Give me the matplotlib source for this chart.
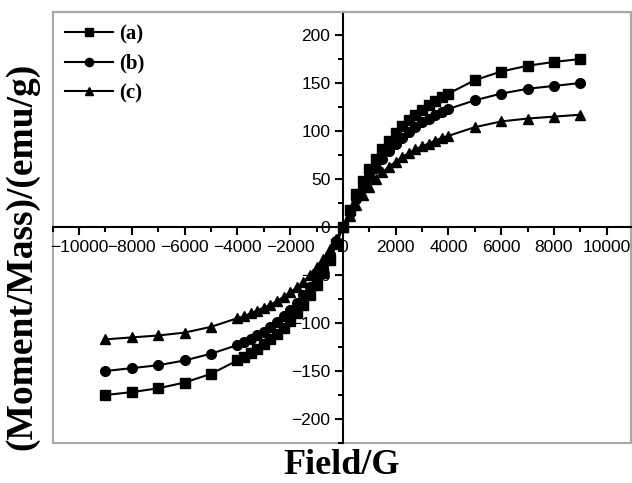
import matplotlib
matplotlib.use("Agg")
import matplotlib.pyplot as plt
from matplotlib.patches import Rectangle
from matplotlib.ticker import MultipleLocator

# Field values (G): outer points every 1000 G, inner dense points every 250 G
field_pos = [0, 250, 500, 750, 1000, 1250, 1500, 1750, 2000, 2250, 2500, 2750,
             3000, 3250, 3500, 3750, 4000, 5000, 6000, 7000, 8000, 9000]
mag_a_pos = [0, 18, 34, 48, 60, 71, 81, 90, 98, 105, 111, 117,
             122, 127, 131, 135, 139, 153, 162, 168, 172, 175]
mag_b_pos = [0, 15, 29, 41, 52, 62, 71, 79, 86, 93, 99, 104,
             109, 113, 117, 120, 123, 132, 139, 144, 147, 150]
mag_c_pos = [0, 12, 23, 33, 42, 50, 57, 63, 68, 73, 77, 81,
             84, 87, 90, 93, 95, 104, 110, 113, 115, 117]

field = [-f for f in field_pos[::-1]] + field_pos[1:]
mag_a = [-m for m in mag_a_pos[::-1]] + mag_a_pos[1:]
mag_b = [-m for m in mag_b_pos[::-1]] + mag_b_pos[1:]
mag_c = [-m for m in mag_c_pos[::-1]] + mag_c_pos[1:]

series_labels = ["(a)", "(b)", "(c)"]
x_ticks = [-10000, -8000, -6000, -4000, -2000, 0, 2000, 4000, 6000, 8000, 10000]
y_ticks = [-200, -150, -100, -50, 0, 50, 100, 150, 200]

fig = plt.figure(figsize=(6.32, 4.83), dpi=100)
ax = fig.add_axes([52.7 / 632, 1 - 443 / 483, (631 - 52.7) / 632, (443 - 12) / 483])

ax.plot(field, mag_a, color="black", lw=1.5, marker="s", ms=6.5, label=series_labels[0])
ax.plot(field, mag_b, color="black", lw=1.5, marker="o", ms=7, label=series_labels[1])
ax.plot(field, mag_c, color="black", lw=1.5, marker="^", ms=7.5, label=series_labels[2])

ax.set_xlim(-11000, 10920)
ax.set_ylim(-225, 224)

for s in ["left", "bottom"]:
    ax.spines[s].set_position("zero")
    ax.spines[s].set_color("black")
    ax.spines[s].set_linewidth(1.5)
for s in ["top", "right"]:
    ax.spines[s].set_color("#a8a8a8")
    ax.spines[s].set_linewidth(1.5)
ax.add_patch(Rectangle((0, 0), 1, 1, transform=ax.transAxes, fill=False,
                       edgecolor="#a8a8a8", lw=1.5, clip_on=False, zorder=0))

ax.set_xticks(x_ticks)
ax.set_yticks(y_ticks)
ax.xaxis.set_minor_locator(MultipleLocator(1000))
ax.yaxis.set_minor_locator(MultipleLocator(25))
ax.tick_params(which="major", direction="out", length=6, width=1.5, labelsize=12.5, pad=3)
ax.tick_params(which="minor", direction="out", length=3.5, width=1.5)
for lab in ax.get_xticklabels() + ax.get_yticklabels():
    lab.set_fontfamily("Liberation Sans")

leg = ax.legend(loc="upper left", frameon=False, numpoints=1, handlelength=2.3,
                handletextpad=0.3, labelspacing=0.45, borderaxespad=0.2,
                markerscale=0.85,
                prop={"family": "Liberation Serif", "weight": "bold", "size": 15})

fig.text(342 / 632, 1 - 466 / 483, "Field/G", ha="center", va="center",
         fontfamily="Liberation Serif", fontweight="bold", fontsize=26)
fig.text(22 / 632, 1 - 256 / 483, "(Moment/Mass)/(emu/g)", ha="center", va="center",
         rotation=90, fontfamily="Liberation Serif", fontweight="bold", fontsize=27)

fig.savefig("out.png", dpi=100)
